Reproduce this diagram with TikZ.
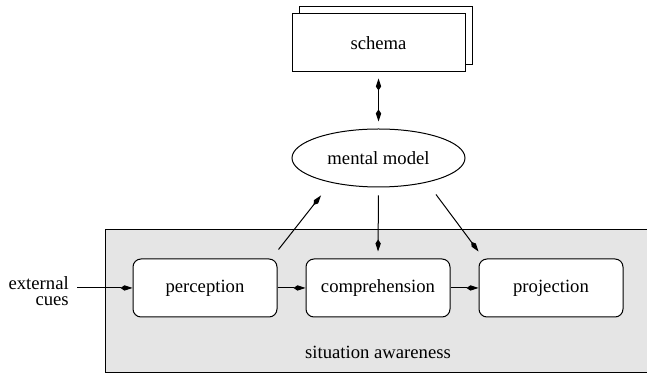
\documentclass[tikz,border=0pt]{standalone}
\usepackage{fontspec}
\setmainfont{Liberation Serif}
\newfontfamily\timesfam{Liberation Serif}
\usetikzlibrary{arrows.meta,shapes.geometric}
\definecolor{sagray}{HTML}{E5E5E5}
\begin{document}
\begin{tikzpicture}[x=0.75pt,y=-0.75pt,
  txt/.style={font=\timesfam\fontsize{14}{12}\selectfont},
  box/.style={txt, draw, rounded corners=6pt, minimum width=108pt, minimum height=43.5pt, fill=white, line width=0.75pt, inner sep=0pt},
  schemabox/.style={txt, draw, minimum width=129.75pt, minimum height=43.5pt, fill=white, line width=0.75pt, inner sep=0pt},
  arr/.style={-{Kite[length=9pt,width=4pt,inset=3pt]}, line width=0.75pt},
  darr/.style={{Kite[length=9pt,width=4pt,inset=3pt]}-{Kite[length=9pt,width=4pt,inset=3pt]}, line width=0.75pt},
  ]
\useasboundingbox (0,0) rectangle (647,377);
% situation awareness background
\draw[fill=sagray, line width=0.75pt] (105,230) rectangle (648,373);
\node[txt] (salabel) at (378,352) {situation awareness};
% schema (stacked)
\node[schemabox] (schemaback) at (385.5,36) {};
\node[schemabox] (schema) at (378.5,43) {schema};
% mental model
\node[txt, draw, ellipse, minimum width=129.75pt, minimum height=43.5pt, inner sep=0pt, line width=0.75pt] (mm) at (378.5,158) {mental model};
% boxes
\node[box] (perc) at (205,288) {perception};
\node[box] (comp) at (378,288) {comprehension};
\node[box] (proj) at (551,288) {projection};
% external cues
\node[txt, align=right, anchor=east, inner sep=0pt] (ext) at (69,291) {external\\cues};
\coordinate (extstart) at (77,288);
% connectors
\draw[darr, shorten <=4.5pt, shorten >=5.25pt] (schema.south) -- (mm.north);
\draw[arr] (extstart) -- (perc.west);
\draw[arr] (perc.east) -- (comp.west);
\draw[arr] (comp.east) -- (proj.west);
\draw[arr, shorten <=6pt, shorten >=5.25pt] (mm.south) -- (comp.north);
\draw[arr] ([shift={(1,-9)}]perc.north east) -- ([shift={(-57.5,8)}]mm.south);
\draw[arr] ([shift={(57.5,7)}]mm.south) -- ([shift={(0,-7)}]proj.north west);
\end{tikzpicture}
\end{document}
